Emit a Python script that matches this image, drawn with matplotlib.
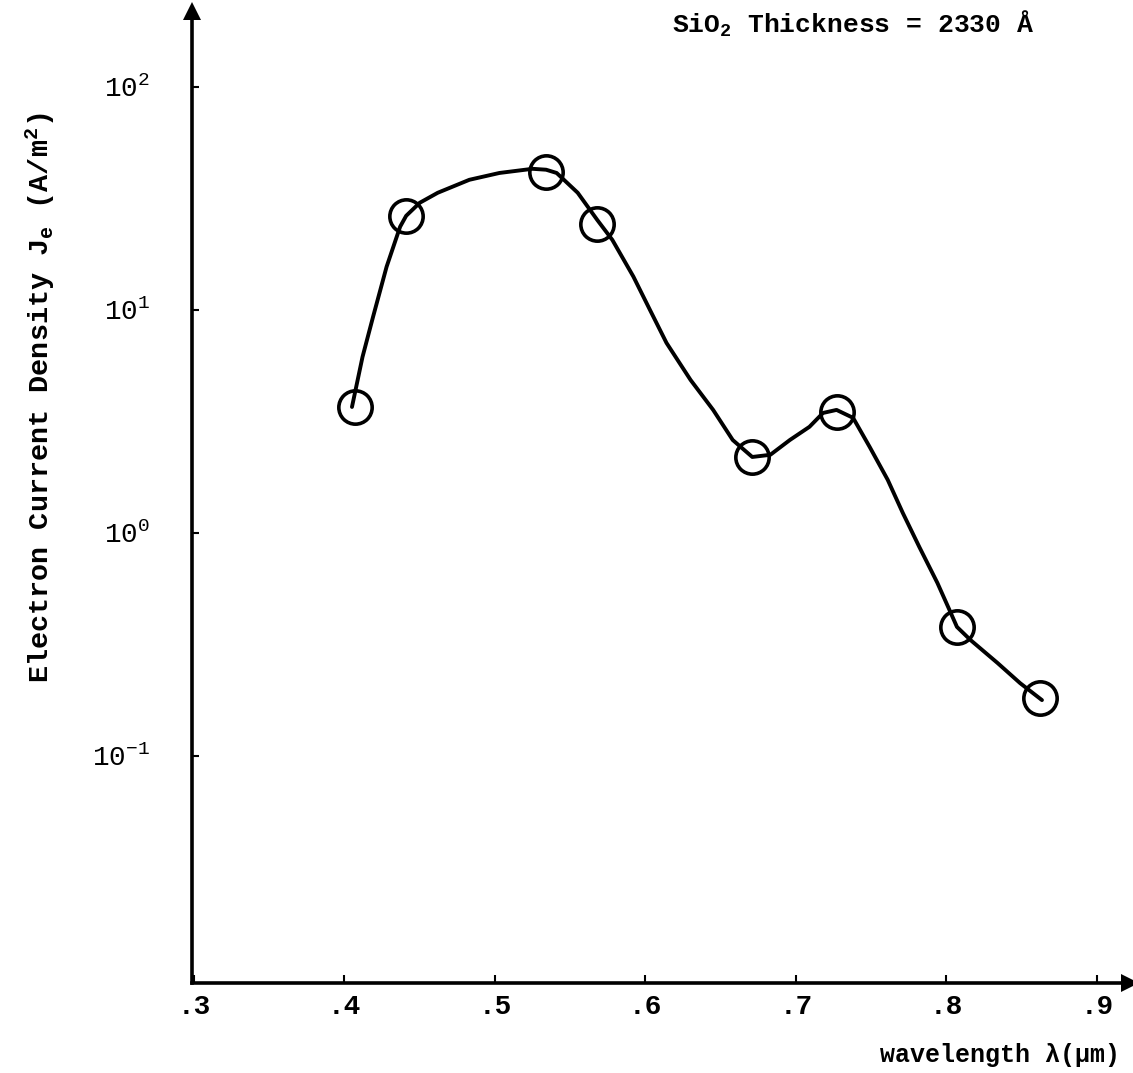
import matplotlib
matplotlib.use("Agg")
import matplotlib.pyplot as plt

plt.rcParams['font.family'] = ['Liberation Mono', 'DejaVu Sans Mono']
plt.rcParams['font.weight'] = 'bold'
plt.rcParams['mathtext.default'] = 'regular'

# measured data points (circles)
point_wavelength = [0.407, 0.441, 0.534, 0.568, 0.671, 0.727, 0.807, 0.862]
point_density = [3.68, 26.4, 41.6, 24.3, 2.20, 3.50, 0.380, 0.182]

# hand-drawn smooth curve
curve_wavelength = [0.405, 0.412, 0.419, 0.428, 0.437, 0.441, 0.450, 0.462, 0.483,
                    0.503, 0.525, 0.534, 0.541, 0.555, 0.568, 0.578, 0.592, 0.603,
                    0.614, 0.630, 0.645, 0.658, 0.671, 0.683, 0.696, 0.709, 0.718,
                    0.727, 0.738, 0.749, 0.761, 0.771, 0.782, 0.794, 0.802, 0.807,
                    0.816, 0.834, 0.849, 0.8635]
curve_density = [3.67, 6.15, 9.3, 15.6, 23.6, 26.4, 30.2, 33.5, 38.3,
                 41.1, 42.9, 42.5, 41.1, 33.5, 25.3, 20.6, 14.1, 10.0,
                 7.11, 4.85, 3.56, 2.61, 2.19, 2.24, 2.61, 2.99, 3.45,
                 3.56, 3.28, 2.43, 1.73, 1.23, 0.865, 0.597, 0.452, 0.379,
                 0.331, 0.261, 0.212, 0.178]

xtick_values = [0.3, 0.4, 0.5, 0.6, 0.7, 0.8, 0.9]
xtick_labels = ['.3', '.4', '.5', '.6', '.7', '.8', '.9']
ytick_values = [1e-1, 1e0, 1e1, 1e2]
ytick_labels = ['10$^{-1}$', '10$^{0}$', '10$^{1}$', '10$^{2}$']

W, H = 1133, 1073
fig = plt.figure(figsize=(W / 100, H / 100), dpi=100)
fig.patch.set_facecolor('white')
ax = fig.add_axes([192 / W, 1 - 983 / H, 938 / W, 972 / H])

ax.set_yscale('log')
ax.set_xlim(0.2987, 0.922)
ax.set_ylim(10 ** -2.018, 10 ** 2.34)

ax.plot(curve_wavelength, curve_density, color='black', lw=2.8,
        solid_capstyle='round', solid_joinstyle='round')
ax.plot(point_wavelength, point_density, linestyle='none', marker='o', ms=24,
        mfc='none', mec='black', mew=2.6)

for s in ['top', 'right']:
    ax.spines[s].set_visible(False)
for s in ['left', 'bottom']:
    ax.spines[s].set_linewidth(2.6)

# arrow heads at axis ends
ax.plot([0], [1], marker='^', ms=13, color='black', transform=ax.transAxes,
        clip_on=False, markeredgewidth=0)
ax.plot([1], [0], marker='>', ms=13, color='black', transform=ax.transAxes,
        clip_on=False, markeredgewidth=0)

ax.set_xticks(xtick_values)
ax.set_xticklabels(xtick_labels, fontsize=20, fontweight='bold')
ax.set_yticks(ytick_values)
ax.set_yticklabels(ytick_labels, fontsize=20, fontweight='normal')
ax.minorticks_off()
ax.tick_params(axis='x', direction='in', length=6, width=1.5, pad=8)
ax.tick_params(axis='y', direction='in', length=5, width=1.5, pad=30)

fig.text(40 / W, 1 - 398 / H, 'Electron Current Density J$_{e}$ (A/m$^{2}$)',
         rotation=90, ha='center', va='center', fontsize=20.5, fontweight='bold')
fig.text(1120 / W, 1 - 1055 / H, 'wavelength \u03bb(\u03bcm)', ha='right',
         va='center', fontsize=18, fontweight='bold')
fig.text(672 / W, 1 - 24 / H, 'SiO$_{2}$ Thickness = 2330 \u00c5', ha='left',
         va='center', fontsize=19, fontweight='bold')

fig.savefig('out.png', dpi=100, facecolor='white')
